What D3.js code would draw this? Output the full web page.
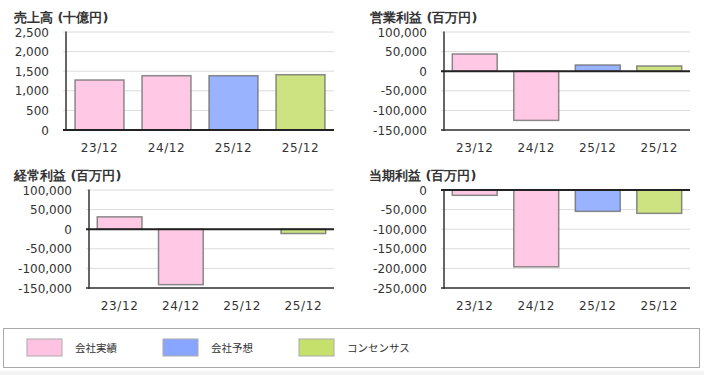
<!DOCTYPE html>
<html>
<head>
<meta charset="utf-8">
<script src="https://cdn.jsdelivr.net/npm/d3@7"></script>
<style>
  body { margin: 0; background: #fff; }
  svg text { font-family: "DejaVu Sans", Verdana, sans-serif; fill: #333; }
</style>
</head>
<body>
<div id="chart"></div>
<script>
// periods (same label used twice: company forecast + consensus)
const periods = ['23/12', '24/12', '25/12', '25/12'];
const kinds = ['actual', 'actual', 'forecast', 'consensus'];

const sales = [1275, 1385, 1385, 1410];               // 売上高 (十億円)
const operatingProfit = [43900, -125500, 15800, 13300]; // 営業利益 (百万円)
const ordinaryProfit = [31500, -141500, null, -11000];  // 経常利益 (百万円)
const netProfit = [-13600, -196000, -54500, -59600];    // 当期利益 (百万円)

const legendLabels = ['会社実績', '会社予想', 'コンセンサス'];
const legendKinds = ['actual', 'forecast', 'consensus'];

const fills = { actual: '#ffc9e5', forecast: '#99b3ff', consensus: '#cde382' };
const swatch = { actual: '#ffc2e0', forecast: '#88a6ff', consensus: '#c6e06c' };

const svg = d3.select('#chart').append('svg')
    .attr('width', 704)
    .attr('height', 375);

function drawPanel(p) {
    const g = svg.append('g');
    const y = d3.scaleLinear().domain(p.domain).range([p.bottom, p.top]);
    const x = d3.scaleBand().domain(d3.range(periods.length))
        .range([p.left, p.right]).paddingInner(0.27).paddingOuter(0.135);
    const ticks = d3.range(p.domain[0], p.domain[1] + 1, p.step);

    // title
    g.append('text')
        .attr('x', p.titleX).attr('y', p.titleY)
        .attr('font-size', 13).attr('font-weight', 'bold')
        .text(p.title);

    // gridlines
    g.selectAll('.grid').data(ticks).enter().append('line')
        .attr('x1', p.left - 3).attr('x2', p.right)
        .attr('y1', d => y(d)).attr('y2', d => y(d))
        .attr('stroke', '#dcdcdc').attr('stroke-width', 1);

    // tick labels
    g.selectAll('.tl').data(ticks).enter().append('text')
        .attr('x', p.left - 17).attr('y', d => y(d) + 4.5)
        .attr('text-anchor', 'end').attr('font-size', 12)
        .text(d => d3.format(',')(d).replace('−', '-'));

    // bars
    const data = p.values.map((v, i) => ({ v, i })).filter(d => d.v !== null);
    g.selectAll('.bar').data(data).enter().append('rect')
        .attr('x', d => x(d.i))
        .attr('width', x.bandwidth())
        .attr('y', d => y(Math.max(0, d.v)))
        .attr('height', d => Math.abs(y(d.v) - y(0)))
        .attr('fill', d => fills[kinds[d.i]])
        .attr('stroke', '#6e6e6e').attr('stroke-opacity', 0.8)
        .attr('stroke-width', 1.5);

    // axis lines
    g.append('line')
        .attr('x1', p.left).attr('x2', p.left)
        .attr('y1', p.top - 0.5).attr('y2', p.bottom + 1)
        .attr('stroke', '#333').attr('stroke-width', 1.5);
    g.append('line')
        .attr('x1', p.left - 3).attr('x2', p.right)
        .attr('y1', p.bottom).attr('y2', p.bottom)
        .attr('stroke', '#333').attr('stroke-width', 1.5);
    g.append('line')
        .attr('x1', p.left - 3).attr('x2', p.right)
        .attr('y1', y(0)).attr('y2', y(0))
        .attr('stroke', '#222').attr('stroke-width', 2);

    // category labels
    g.selectAll('.cl').data(periods).enter().append('text')
        .attr('x', (d, i) => x(i) + x.bandwidth() / 2)
        .attr('y', p.bottom + 22)
        .attr('text-anchor', 'middle').attr('font-size', 12)
        .attr('letter-spacing', 0.6)
        .text(d => d);
}

drawPanel({ title: '売上高 (十億円)', titleX: 14, titleY: 22, values: sales,
    domain: [0, 2500], step: 500, left: 66, right: 334, top: 32, bottom: 130 });
drawPanel({ title: '営業利益 (百万円)', titleX: 370, titleY: 22, values: operatingProfit,
    domain: [-150000, 100000], step: 50000, left: 444, right: 690, top: 32, bottom: 130 });
drawPanel({ title: '経常利益 (百万円)', titleX: 14, titleY: 180, values: ordinaryProfit,
    domain: [-150000, 100000], step: 50000, left: 89, right: 334, top: 190, bottom: 288 });
drawPanel({ title: '当期利益 (百万円)', titleX: 369, titleY: 180, values: netProfit,
    domain: [-250000, 0], step: 50000, left: 444, right: 690, top: 190, bottom: 288 });

// legend
svg.append('rect')
    .attr('x', 3.5).attr('y', 328.5).attr('width', 696).attr('height', 39)
    .attr('fill', '#fff').attr('stroke', '#aaa');

const legend = svg.selectAll('.lg').data(legendKinds).enter().append('g')
    .attr('transform', (d, i) => `translate(${27 + i * 136}, 339)`);
legend.append('rect')
    .attr('width', 35).attr('height', 17)
    .attr('fill', d => swatch[d]).attr('stroke', '#aaa');
legend.append('text')
    .attr('x', 48).attr('y', 12.5)
    .attr('font-size', 10.5)
    .style('font-family', '"Noto Sans CJK JP", sans-serif')
    .text((d, i) => legendLabels[i]);

svg.append('rect')
    .attr('x', 0).attr('y', 371).attr('width', 704).attr('height', 4)
    .attr('fill', '#f3f3f3');
</script>
</body>
</html>
